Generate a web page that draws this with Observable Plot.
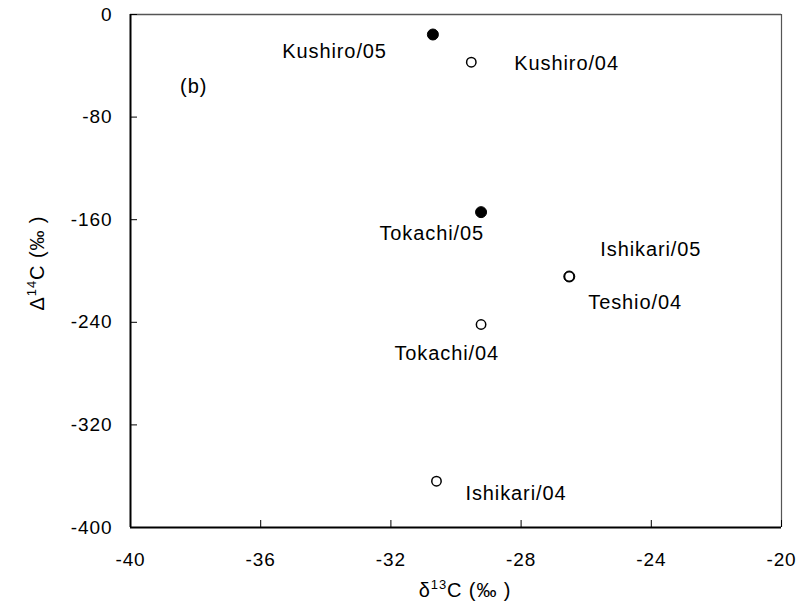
<!DOCTYPE html>
<html>
<head>
<meta charset="utf-8">
<script src="https://cdn.jsdelivr.net/npm/d3@7"></script>
<script src="https://cdn.jsdelivr.net/npm/@observablehq/plot@0.6"></script>
<style>
  html, body { margin: 0; padding: 0; background: #fff; }
  #chart svg { font-family: "Liberation Sans", Arial, sans-serif; }
  #chart svg text { letter-spacing: 0.9px; }
</style>
</head>
<body>
<div id="chart"></div>
<script>
// ---- data ----
const samples = ["Kushiro/05", "Kushiro/04", "Tokachi/05", "Ishikari/05", "Teshio/04", "Tokachi/04", "Ishikari/04"];
const d13C    = [-30.71, -29.53, -29.23, -26.52, -26.52, -29.23, -30.60];
const D14C    = [-15.6, -37.2, -154.1, -204.3, -204.3, -241.7, -363.9];
const year    = ["05", "04", "05", "05", "04", "04", "04"];
const xTicks  = [-40, -36, -32, -28, -24, -20];
const yTicks  = [0, -80, -160, -240, -320, -400];

// label layout (pixel offsets, text anchor) keyed by sample
const labelLayout = {
  "Kushiro/05":  {dx: -46, dy: 17, anchor: "end"},
  "Kushiro/04":  {dx: 43,  dy: 1,  anchor: "start"},
  "Tokachi/05":  {dx: 3,   dy: 21, anchor: "end"},
  "Ishikari/05": {dx: 31,  dy: -27, anchor: "start"},
  "Teshio/04":   {dx: 19,  dy: 26, anchor: "start"},
  "Tokachi/04":  {dx: 18,  dy: 29, anchor: "end"},
  "Ishikari/04": {dx: 29,  dy: 12, anchor: "start"}
};

const rows = samples.map((s, i) => ({sample: s, x: d13C[i], y: D14C[i], year: year[i]}));
const filled = rows.filter(d => d.year === "05");
const open = rows.filter(d => d.year === "04");

const W = 799, H = 607;
const mL = 130, mR = 18, mT = 14, mB = 80;
const innerW = W - mL - mR, innerH = H - mT - mB;

const textMarks = Object.keys(labelLayout).map(name => {
  const L = labelLayout[name];
  return Plot.text(rows.filter(d => d.sample === name), {
    x: "x", y: "y", text: "sample", dx: L.dx, dy: L.dy, textAnchor: L.anchor,
    fontSize: 20, fill: "#000"
  });
});

const chart = Plot.plot({
  width: W, height: H,
  marginLeft: mL, marginRight: mR, marginTop: mT, marginBottom: mB,
  style: {fontFamily: "'Liberation Sans', Arial, sans-serif", background: "#fff"},
  x: {domain: [-40, -20], label: null},
  y: {domain: [-400, 0], label: null},
  marks: [
    // frame: top & right gray, left & bottom black
    Plot.ruleY([0], {stroke: "#555", strokeWidth: 1.5}),
    Plot.ruleX([-20], {stroke: "#555", strokeWidth: 1.2}),
    // inward ticks
    Plot.ruleX(xTicks, {x: d => d, insetTop: innerH - 7, stroke: "#000", strokeWidth: 1}),
    Plot.ruleY(yTicks, {y: d => d, insetRight: innerW - 7, stroke: "#000", strokeWidth: 1}),
    Plot.ruleX([-40], {stroke: "#000", strokeWidth: 2}),
    Plot.ruleY([-400], {stroke: "#000", strokeWidth: 2}),
    Plot.axisX({ticks: xTicks, tickSize: 0, tickPadding: 25, tickFormat: d => String(d), fontSize: 19, label: null}),
    Plot.axisY({ticks: yTicks, tickSize: 0, tickPadding: 18, tickFormat: d => String(d), fontSize: 19, label: null}),
    Plot.dot(filled, {x: "x", y: "y", r: 5.5, fill: "#000", stroke: "#000", strokeWidth: 1}),
    Plot.dot(open, {x: "x", y: "y", r: 4.7, fill: "#fff", stroke: "#000", strokeWidth: 1.5}),
    ...textMarks,
    Plot.text(["(b)"], {x: -38.06, y: -56.1, text: d => d, fontSize: 20, fill: "#000"})
  ]
});

const svg = d3.select(chart);
// x axis title with superscript
const xt = svg.append("text")
  .attr("x", 465).attr("y", 597)
  .attr("text-anchor", "middle")
  .attr("font-size", 20)
  .attr("font-family", "'Liberation Sans', Arial, sans-serif")
  .attr("fill", "#000");
xt.append("tspan").text("δ");
xt.append("tspan").attr("font-size", 13).attr("dy", -8).text("13");
xt.append("tspan").attr("dy", 8).text("C (‰ )");

const yt = svg.append("text")
  .attr("transform", "translate(44,263) rotate(-90)")
  .attr("text-anchor", "middle")
  .attr("font-size", 20)
  .attr("font-family", "'Liberation Sans', Arial, sans-serif")
  .attr("fill", "#000");
yt.append("tspan").text("Δ");
yt.append("tspan").attr("font-size", 13).attr("dy", -8).text("14");
yt.append("tspan").attr("dy", 8).text("C (‰ )");

document.getElementById("chart").appendChild(chart);
</script>
</body>
</html>
